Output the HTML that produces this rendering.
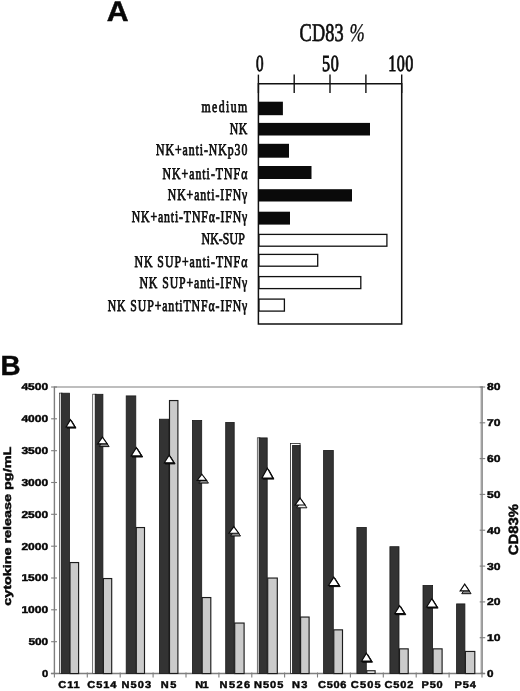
<!DOCTYPE html><html><head><meta charset="utf-8"><title>Figure</title><style>
html,body{margin:0;padding:0;background:#fff;}body{width:520px;height:691px;overflow:hidden;font-family:"Liberation Sans",sans-serif;}
svg{display:block;position:absolute;left:0;top:0;filter:grayscale(1);}text{text-rendering:geometricPrecision;}
.s{font-family:"Liberation Serif",serif;fill:#0c0c0c;stroke:#0c0c0c;stroke-width:0.75px;}
.b{font-family:"Liberation Sans",sans-serif;font-weight:bold;fill:#080808;stroke:#080808;stroke-width:0.45px;}
</style></head><body>
<svg width="520" height="691" viewBox="0 0 520 691">
<rect x="0" y="0" width="520" height="691" fill="#fff"/>
<g transform="translate(107.5,21.2) scale(1.1,1.03)"><text class="b" x="-0.6" y="0" font-size="27.5">A</text></g>
<g transform="translate(299.6,40.6) scale(0.72,1)"><text class="s" x="0" y="0" font-size="25.4" textLength="61.1" lengthAdjust="spacing" style="stroke-width:0.7px">CD83</text></g>
<g transform="translate(349.4,40.6) scale(0.72,1)"><text class="s" x="0" y="0" font-size="25.4" font-style="italic" style="stroke-width:0.35px">%</text></g>
<g transform="translate(255.9,70.6) scale(0.66,1)"><text class="s" x="0" y="0" font-size="23" style="stroke-width:0.9px">0</text></g>
<g transform="translate(321.9,70.6) scale(0.7,1)"><text class="s" x="0" y="0" font-size="23" textLength="24.0" lengthAdjust="spacing" style="stroke-width:0.9px">50</text></g>
<g transform="translate(388.2,70.6) scale(0.7,1)"><text class="s" x="0" y="0" font-size="23" textLength="35.7" lengthAdjust="spacing" style="stroke-width:0.9px">100</text></g>
<path d="M258.4 83.8H401.7V324H258.4Z" fill="none" stroke="#111" stroke-width="1.5"/>
<line x1="258.4" y1="74.6" x2="258.4" y2="93" stroke="#111" stroke-width="1.4"/>
<line x1="294.2" y1="74.6" x2="294.2" y2="93" stroke="#111" stroke-width="1.4"/>
<line x1="330" y1="74.6" x2="330" y2="93" stroke="#111" stroke-width="1.4"/>
<line x1="365.9" y1="74.6" x2="365.9" y2="93" stroke="#111" stroke-width="1.4"/>
<line x1="401.7" y1="74.6" x2="401.7" y2="93" stroke="#111" stroke-width="1.4"/>
<rect x="258.4" y="101.7" width="24.5" height="13.5" fill="#0a0a0a"/>
<rect x="258.4" y="122.9" width="111.6" height="12.6" fill="#0a0a0a"/>
<rect x="258.4" y="143.8" width="30.6" height="13.9" fill="#0a0a0a"/>
<rect x="258.4" y="166" width="53.1" height="13.0" fill="#0a0a0a"/>
<rect x="258.4" y="189.2" width="93.6" height="12.3" fill="#0a0a0a"/>
<rect x="258.4" y="211.7" width="31.6" height="12.9" fill="#0a0a0a"/>
<rect x="259.0" y="234.4" width="127.9" height="11.8" fill="#fff" stroke="#111" stroke-width="1.3"/>
<rect x="259.0" y="254.4" width="58.7" height="11.8" fill="#fff" stroke="#111" stroke-width="1.3"/>
<rect x="259.0" y="276.6" width="101.8" height="12.0" fill="#fff" stroke="#111" stroke-width="1.3"/>
<rect x="259.0" y="299.1" width="25.4" height="12.0" fill="#fff" stroke="#111" stroke-width="1.3"/>
<g transform="translate(201.5,112.3) scale(0.72,1)"><text class="s" x="0" y="0" font-size="16.4" textLength="63.6" lengthAdjust="spacing" >medium</text></g>
<g transform="translate(229.8,133.5) scale(0.72,1)"><text class="s" x="0" y="0" font-size="16.4" textLength="24.3" lengthAdjust="spacing" >NK</text></g>
<g transform="translate(156,155.3) scale(0.72,1)"><text class="s" x="0" y="0" font-size="16.4" textLength="126.8" lengthAdjust="spacing" >NK+anti-NKp30</text></g>
<g transform="translate(162.5,178.5) scale(0.72,1)"><text class="s" x="0" y="0" font-size="16.4" textLength="117.8" lengthAdjust="spacing" >NK+anti-TNF&#945;</text></g>
<g transform="translate(167.7,200) scale(0.72,1)"><text class="s" x="0" y="0" font-size="16.4" textLength="110.6" lengthAdjust="spacing" >NK+anti-IFN&#947;</text></g>
<g transform="translate(131.7,221.5) scale(0.72,1)"><text class="s" x="0" y="0" font-size="16.4" textLength="160.6" lengthAdjust="spacing" >NK+anti-TNF&#945;-IFN&#947;</text></g>
<g transform="translate(201.5,244) scale(0.72,1)"><text class="s" x="0" y="0" font-size="16.4" textLength="60.1" lengthAdjust="spacing" >NK-SUP</text></g>
<g transform="translate(134.5,266.5) scale(0.72,1)"><text class="s" x="0" y="0" font-size="16.4" textLength="156.7" lengthAdjust="spacing" >NK SUP+anti-TNF&#945;</text></g>
<g transform="translate(139.4,288) scale(0.72,1)"><text class="s" x="0" y="0" font-size="16.4" textLength="149.9" lengthAdjust="spacing" >NK SUP+anti-IFN&#947;</text></g>
<g transform="translate(107.7,310.5) scale(0.72,1)"><text class="s" x="0" y="0" font-size="16.4" textLength="193.9" lengthAdjust="spacing" >NK SUP+antiTNF&#945;-IFN&#947;</text></g>
<text class="b" x="0.6" y="375.3" font-size="27.8">B</text>
<line x1="54.4" y1="387" x2="483" y2="387" stroke="#7e7e7e" stroke-width="1.2"/>
<line x1="54.4" y1="386.5" x2="54.4" y2="674.0" stroke="#7e7e7e" stroke-width="1.4"/>
<line x1="481.8" y1="386.5" x2="481.8" y2="674.0" stroke="#8c8c8c" stroke-width="2.3"/>
<line x1="481.8" y1="388" x2="481.8" y2="672.5" stroke="#b4b4b4" stroke-width="0.8"/>
<line x1="50.9" y1="673.5" x2="485" y2="673.5" stroke="#7e7e7e" stroke-width="1.6"/>
<line x1="51.1" y1="673.5" x2="57.0" y2="673.5" stroke="#7e7e7e" stroke-width="1.1"/>
<text class="b" x="42.0" y="676.9" font-size="10" text-anchor="start" textLength="6.2" lengthAdjust="spacingAndGlyphs" >0</text>
<line x1="51.1" y1="641.7" x2="57.0" y2="641.7" stroke="#7e7e7e" stroke-width="1.1"/>
<text class="b" x="28.400000000000002" y="645.1" font-size="10" text-anchor="start" textLength="19.8" lengthAdjust="spacingAndGlyphs" >500</text>
<line x1="51.1" y1="609.8" x2="57.0" y2="609.8" stroke="#7e7e7e" stroke-width="1.1"/>
<text class="b" x="21.400000000000002" y="613.2" font-size="10" text-anchor="start" textLength="26.8" lengthAdjust="spacingAndGlyphs" >1000</text>
<line x1="51.1" y1="578.0" x2="57.0" y2="578.0" stroke="#7e7e7e" stroke-width="1.1"/>
<text class="b" x="21.400000000000002" y="581.4" font-size="10" text-anchor="start" textLength="26.8" lengthAdjust="spacingAndGlyphs" >1500</text>
<line x1="51.1" y1="546.2" x2="57.0" y2="546.2" stroke="#7e7e7e" stroke-width="1.1"/>
<text class="b" x="21.400000000000002" y="549.6" font-size="10" text-anchor="start" textLength="26.8" lengthAdjust="spacingAndGlyphs" >2000</text>
<line x1="51.1" y1="514.3" x2="57.0" y2="514.3" stroke="#7e7e7e" stroke-width="1.1"/>
<text class="b" x="21.400000000000002" y="517.7" font-size="10" text-anchor="start" textLength="26.8" lengthAdjust="spacingAndGlyphs" >2500</text>
<line x1="51.1" y1="482.5" x2="57.0" y2="482.5" stroke="#7e7e7e" stroke-width="1.1"/>
<text class="b" x="21.400000000000002" y="485.9" font-size="10" text-anchor="start" textLength="26.8" lengthAdjust="spacingAndGlyphs" >3000</text>
<line x1="51.1" y1="450.7" x2="57.0" y2="450.7" stroke="#7e7e7e" stroke-width="1.1"/>
<text class="b" x="21.400000000000002" y="454.1" font-size="10" text-anchor="start" textLength="26.8" lengthAdjust="spacingAndGlyphs" >3500</text>
<line x1="51.1" y1="418.8" x2="57.0" y2="418.8" stroke="#7e7e7e" stroke-width="1.1"/>
<text class="b" x="21.400000000000002" y="422.2" font-size="10" text-anchor="start" textLength="26.8" lengthAdjust="spacingAndGlyphs" >4000</text>
<line x1="51.1" y1="387.0" x2="57.0" y2="387.0" stroke="#7e7e7e" stroke-width="1.1"/>
<text class="b" x="21.400000000000002" y="390.4" font-size="10" text-anchor="start" textLength="26.8" lengthAdjust="spacingAndGlyphs" >4500</text>
<line x1="479.7" y1="673.5" x2="485.2" y2="673.5" stroke="#7e7e7e" stroke-width="1.1"/>
<text class="b" x="486.9" y="676.9" font-size="10" text-anchor="start" textLength="6.5" lengthAdjust="spacingAndGlyphs" >0</text>
<line x1="479.7" y1="637.7" x2="485.2" y2="637.7" stroke="#7e7e7e" stroke-width="1.1"/>
<text class="b" x="486.9" y="641.1" font-size="10" text-anchor="start" textLength="13.5" lengthAdjust="spacingAndGlyphs" >10</text>
<line x1="479.7" y1="601.9" x2="485.2" y2="601.9" stroke="#7e7e7e" stroke-width="1.1"/>
<text class="b" x="486.9" y="605.3" font-size="10" text-anchor="start" textLength="13.5" lengthAdjust="spacingAndGlyphs" >20</text>
<line x1="479.7" y1="566.1" x2="485.2" y2="566.1" stroke="#7e7e7e" stroke-width="1.1"/>
<text class="b" x="486.9" y="569.5" font-size="10" text-anchor="start" textLength="13.5" lengthAdjust="spacingAndGlyphs" >30</text>
<line x1="479.7" y1="530.2" x2="485.2" y2="530.2" stroke="#7e7e7e" stroke-width="1.1"/>
<text class="b" x="486.9" y="533.6" font-size="10" text-anchor="start" textLength="13.5" lengthAdjust="spacingAndGlyphs" >40</text>
<line x1="479.7" y1="494.4" x2="485.2" y2="494.4" stroke="#7e7e7e" stroke-width="1.1"/>
<text class="b" x="486.9" y="497.8" font-size="10" text-anchor="start" textLength="13.5" lengthAdjust="spacingAndGlyphs" >50</text>
<line x1="479.7" y1="458.6" x2="485.2" y2="458.6" stroke="#7e7e7e" stroke-width="1.1"/>
<text class="b" x="486.9" y="462.0" font-size="10" text-anchor="start" textLength="13.5" lengthAdjust="spacingAndGlyphs" >60</text>
<line x1="479.7" y1="422.8" x2="485.2" y2="422.8" stroke="#7e7e7e" stroke-width="1.1"/>
<text class="b" x="486.9" y="426.2" font-size="10" text-anchor="start" textLength="13.5" lengthAdjust="spacingAndGlyphs" >70</text>
<line x1="479.7" y1="387.0" x2="485.2" y2="387.0" stroke="#7e7e7e" stroke-width="1.1"/>
<text class="b" x="486.9" y="390.4" font-size="10" text-anchor="start" textLength="13.5" lengthAdjust="spacingAndGlyphs" >80</text>
<line x1="54.4" y1="672.5" x2="54.4" y2="677.5" stroke="#7e7e7e" stroke-width="1.1"/>
<line x1="87.3" y1="672.5" x2="87.3" y2="677.5" stroke="#7e7e7e" stroke-width="1.1"/>
<line x1="120.2" y1="672.5" x2="120.2" y2="677.5" stroke="#7e7e7e" stroke-width="1.1"/>
<line x1="153.1" y1="672.5" x2="153.1" y2="677.5" stroke="#7e7e7e" stroke-width="1.1"/>
<line x1="186.0" y1="672.5" x2="186.0" y2="677.5" stroke="#7e7e7e" stroke-width="1.1"/>
<line x1="218.9" y1="672.5" x2="218.9" y2="677.5" stroke="#7e7e7e" stroke-width="1.1"/>
<line x1="251.8" y1="672.5" x2="251.8" y2="677.5" stroke="#7e7e7e" stroke-width="1.1"/>
<line x1="284.6" y1="672.5" x2="284.6" y2="677.5" stroke="#7e7e7e" stroke-width="1.1"/>
<line x1="317.5" y1="672.5" x2="317.5" y2="677.5" stroke="#7e7e7e" stroke-width="1.1"/>
<line x1="350.4" y1="672.5" x2="350.4" y2="677.5" stroke="#7e7e7e" stroke-width="1.1"/>
<line x1="383.3" y1="672.5" x2="383.3" y2="677.5" stroke="#7e7e7e" stroke-width="1.1"/>
<line x1="416.2" y1="672.5" x2="416.2" y2="677.5" stroke="#7e7e7e" stroke-width="1.1"/>
<line x1="449.1" y1="672.5" x2="449.1" y2="677.5" stroke="#7e7e7e" stroke-width="1.1"/>
<line x1="482.0" y1="672.5" x2="482.0" y2="677.5" stroke="#7e7e7e" stroke-width="1.1"/>
<rect x="59.5" y="393.1" width="2.6" height="280.4" fill="#fff" stroke="#333" stroke-width="0.7"/>
<rect x="61.2" y="393.2" width="8.3" height="280.3" fill="#333333" stroke="#1a1a1a" stroke-width="0.8"/>
<rect x="70.0" y="562.55" width="8.6" height="111.0" fill="#cbcbcb" stroke="#1c1c1c" stroke-width="1.15"/>
<rect x="92.7" y="394.2" width="3.4" height="279.3" fill="#fff" stroke="#333" stroke-width="0.7"/>
<rect x="95.2" y="394.29999999999995" width="7.7" height="279.2" fill="#333333" stroke="#1a1a1a" stroke-width="0.8"/>
<rect x="103.4" y="578.55" width="8.3" height="95.0" fill="#cbcbcb" stroke="#1c1c1c" stroke-width="1.15"/>
<rect x="126.2" y="395.9" width="9.6" height="277.6" fill="#333333" stroke="#1a1a1a" stroke-width="0.8"/>
<rect x="136.3" y="527.55" width="8.2" height="145.9" fill="#cbcbcb" stroke="#1c1c1c" stroke-width="1.15"/>
<rect x="159.4" y="419.2" width="9.6" height="254.3" fill="#333333" stroke="#1a1a1a" stroke-width="0.8"/>
<rect x="169.5" y="400.55" width="8.4" height="272.9" fill="#cbcbcb" stroke="#1c1c1c" stroke-width="1.15"/>
<rect x="192.4" y="420.4" width="9.3" height="253.1" fill="#333333" stroke="#1a1a1a" stroke-width="0.8"/>
<rect x="202.2" y="597.55" width="8.6" height="76.0" fill="#cbcbcb" stroke="#1c1c1c" stroke-width="1.15"/>
<rect x="225.7" y="422.4" width="8.5" height="251.1" fill="#333333" stroke="#1a1a1a" stroke-width="0.8"/>
<rect x="234.7" y="623.05" width="9.4" height="50.5" fill="#cbcbcb" stroke="#1c1c1c" stroke-width="1.15"/>
<rect x="257.3" y="437.8" width="2.7" height="235.7" fill="#fff" stroke="#333" stroke-width="0.7"/>
<rect x="259.1" y="437.9" width="8.1" height="235.6" fill="#333333" stroke="#1a1a1a" stroke-width="0.8"/>
<rect x="267.7" y="578.05" width="9.6" height="95.5" fill="#cbcbcb" stroke="#1c1c1c" stroke-width="1.15"/>
<rect x="290.4" y="443.4" width="9.7" height="230.1" fill="#fff" stroke="#222" stroke-width="0.8"/>
<rect x="292.6" y="445.4" width="7.5" height="228.1" fill="#333333" stroke="#1a1a1a" stroke-width="0.8"/>
<rect x="300.6" y="617.05" width="8.5" height="56.5" fill="#cbcbcb" stroke="#1c1c1c" stroke-width="1.15"/>
<rect x="323.6" y="450.4" width="9.7" height="223.1" fill="#333333" stroke="#1a1a1a" stroke-width="0.8"/>
<rect x="333.8" y="629.8499999999999" width="8.7" height="43.7" fill="#cbcbcb" stroke="#1c1c1c" stroke-width="1.15"/>
<rect x="356.9" y="527.4" width="9.4" height="146.1" fill="#333333" stroke="#1a1a1a" stroke-width="0.8"/>
<rect x="366.8" y="670.75" width="8.3" height="2.7" fill="#f4f4f4" stroke="#1c1c1c" stroke-width="1.15"/>
<rect x="389.9" y="546.6999999999999" width="9.1" height="126.8" fill="#333333" stroke="#1a1a1a" stroke-width="0.8"/>
<rect x="399.5" y="648.8499999999999" width="8.7" height="24.7" fill="#cbcbcb" stroke="#1c1c1c" stroke-width="1.15"/>
<rect x="423.0" y="585.4" width="9.6" height="88.1" fill="#333333" stroke="#1a1a1a" stroke-width="0.8"/>
<rect x="433.1" y="648.8499999999999" width="9.0" height="24.7" fill="#cbcbcb" stroke="#1c1c1c" stroke-width="1.15"/>
<rect x="456.6" y="603.9" width="8.3" height="69.6" fill="#333333" stroke="#1a1a1a" stroke-width="0.8"/>
<rect x="465.4" y="651.4499999999999" width="9.4" height="22.1" fill="#cbcbcb" stroke="#1c1c1c" stroke-width="1.15"/>
<path d="M71.50 420.57L76.02 428.10H66.98Z" fill="#0a0a0a" stroke="#0a0a0a" stroke-width="1.0" stroke-linejoin="miter"/>
<path d="M70.50 419.72L74.88 427.03H66.12Z" fill="#fff" stroke="#0a0a0a" stroke-width="1.15" stroke-linejoin="miter"/>
<path d="M104.15 439.66L109.13 446.60H99.17Z" fill="#8c8c8c" stroke="#111" stroke-width="1.0" stroke-linejoin="miter"/>
<path d="M102.45 437.09L107.28 443.83H97.62Z" fill="#fff" stroke="#0a0a0a" stroke-width="1.15" stroke-linejoin="miter"/>
<path d="M137.35 448.44L142.70 457.00H132.00Z" fill="#0a0a0a" stroke="#0a0a0a" stroke-width="1.0" stroke-linejoin="miter"/>
<path d="M136.35 447.58L141.56 455.93H131.14Z" fill="#fff" stroke="#0a0a0a" stroke-width="1.15" stroke-linejoin="miter"/>
<path d="M170.15 455.95L175.10 463.90H165.20Z" fill="#0a0a0a" stroke="#0a0a0a" stroke-width="1.0" stroke-linejoin="miter"/>
<path d="M169.15 455.09L173.96 462.82H164.34Z" fill="#fff" stroke="#0a0a0a" stroke-width="1.15" stroke-linejoin="miter"/>
<path d="M203.60 476.82L208.48 483.10H198.72Z" fill="#8c8c8c" stroke="#111" stroke-width="1.0" stroke-linejoin="miter"/>
<path d="M201.90 474.24L206.63 480.33H197.17Z" fill="#fff" stroke="#0a0a0a" stroke-width="1.15" stroke-linejoin="miter"/>
<path d="M235.55 529.15L240.52 536.00H230.58Z" fill="#8c8c8c" stroke="#111" stroke-width="1.0" stroke-linejoin="miter"/>
<path d="M233.85 526.58L238.67 533.22H229.03Z" fill="#fff" stroke="#0a0a0a" stroke-width="1.15" stroke-linejoin="miter"/>
<path d="M268.40 469.13L273.95 479.10H262.85Z" fill="#0a0a0a" stroke="#0a0a0a" stroke-width="1.0" stroke-linejoin="miter"/>
<path d="M267.40 468.28L272.82 478.03H261.98Z" fill="#fff" stroke="#0a0a0a" stroke-width="1.15" stroke-linejoin="miter"/>
<path d="M301.80 500.66L306.93 507.80H296.67Z" fill="#f0f0f0" stroke="#111" stroke-width="1.0" stroke-linejoin="miter"/>
<path d="M300.10 498.09L305.08 505.03H295.12Z" fill="#fff" stroke="#0a0a0a" stroke-width="1.15" stroke-linejoin="miter"/>
<path d="M334.80 578.04L340.19 586.60H329.41Z" fill="#0a0a0a" stroke="#0a0a0a" stroke-width="1.0" stroke-linejoin="miter"/>
<path d="M333.80 577.18L339.06 585.52H328.54Z" fill="#fff" stroke="#0a0a0a" stroke-width="1.15" stroke-linejoin="miter"/>
<path d="M367.45 654.05L372.50 662.20H362.40Z" fill="#0a0a0a" stroke="#0a0a0a" stroke-width="1.0" stroke-linejoin="miter"/>
<path d="M366.45 653.19L371.37 661.12H361.53Z" fill="#fff" stroke="#0a0a0a" stroke-width="1.15" stroke-linejoin="miter"/>
<path d="M400.70 606.54L405.80 614.70H395.60Z" fill="#0a0a0a" stroke="#0a0a0a" stroke-width="1.0" stroke-linejoin="miter"/>
<path d="M399.70 605.68L404.66 613.62H394.74Z" fill="#fff" stroke="#0a0a0a" stroke-width="1.15" stroke-linejoin="miter"/>
<path d="M432.80 599.64L438.10 608.10H427.50Z" fill="#0a0a0a" stroke="#0a0a0a" stroke-width="1.0" stroke-linejoin="miter"/>
<path d="M431.80 598.78L436.96 607.02H426.64Z" fill="#fff" stroke="#0a0a0a" stroke-width="1.15" stroke-linejoin="miter"/>
<path d="M466.40 586.70L471.07 593.70H461.73Z" fill="#8c8c8c" stroke="#111" stroke-width="1.0" stroke-linejoin="miter"/>
<path d="M464.70 584.14L469.23 590.92H460.17Z" fill="#fff" stroke="#0a0a0a" stroke-width="1.15" stroke-linejoin="miter"/>
<g transform="translate(58.35,688.1) scale(1.1,1)"><text class="b" x="0" y="0" font-size="10" textLength="19.32" lengthAdjust="spacing">C11</text></g>
<g transform="translate(87.35,688.1) scale(1.1,1)"><text class="b" x="0" y="0" font-size="10" textLength="26.45" lengthAdjust="spacing">C514</text></g>
<g transform="translate(121.50,688.1) scale(1.1,1)"><text class="b" x="0" y="0" font-size="10" textLength="27.00" lengthAdjust="spacing">N503</text></g>
<g transform="translate(160.85,688.1) scale(1.1,1)"><text class="b" x="0" y="0" font-size="10" textLength="14.18" lengthAdjust="spacing">N5</text></g>
<g transform="translate(195.20,688.1) scale(1.1,1)"><text class="b" x="0" y="0" font-size="10" textLength="12.27" lengthAdjust="spacing">N1</text></g>
<g transform="translate(219.60,688.1) scale(1.1,1)"><text class="b" x="0" y="0" font-size="10" textLength="27.82" lengthAdjust="spacing">N526</text></g>
<g transform="translate(254.00,688.1) scale(1.1,1)"><text class="b" x="0" y="0" font-size="10" textLength="26.64" lengthAdjust="spacing">N505</text></g>
<g transform="translate(292.10,688.1) scale(1.1,1)"><text class="b" x="0" y="0" font-size="10" textLength="13.95" lengthAdjust="spacing">N3</text></g>
<g transform="translate(318.10,688.1) scale(1.1,1)"><text class="b" x="0" y="0" font-size="10" textLength="25.77" lengthAdjust="spacing">C506</text></g>
<g transform="translate(350.85,688.1) scale(1.1,1)"><text class="b" x="0" y="0" font-size="10" textLength="27.05" lengthAdjust="spacing">C505</text></g>
<g transform="translate(384.60,688.1) scale(1.1,1)"><text class="b" x="0" y="0" font-size="10" textLength="26.09" lengthAdjust="spacing">C502</text></g>
<g transform="translate(421.50,688.1) scale(1.1,1)"><text class="b" x="0" y="0" font-size="10" textLength="19.27" lengthAdjust="spacing">P50</text></g>
<g transform="translate(454.60,688.1) scale(1.1,1)"><text class="b" x="0" y="0" font-size="10" textLength="19.27" lengthAdjust="spacing">P54</text></g>
<text class="b" font-size="10.9" transform="translate(10.5,605.8) rotate(-90)" textLength="159" lengthAdjust="spacingAndGlyphs">cytokine release pg/mL</text>
<text class="b" font-size="13.4" transform="translate(517.9,555.2) rotate(-90)" textLength="51.2" lengthAdjust="spacingAndGlyphs">CD83%</text>
</svg></body></html>
